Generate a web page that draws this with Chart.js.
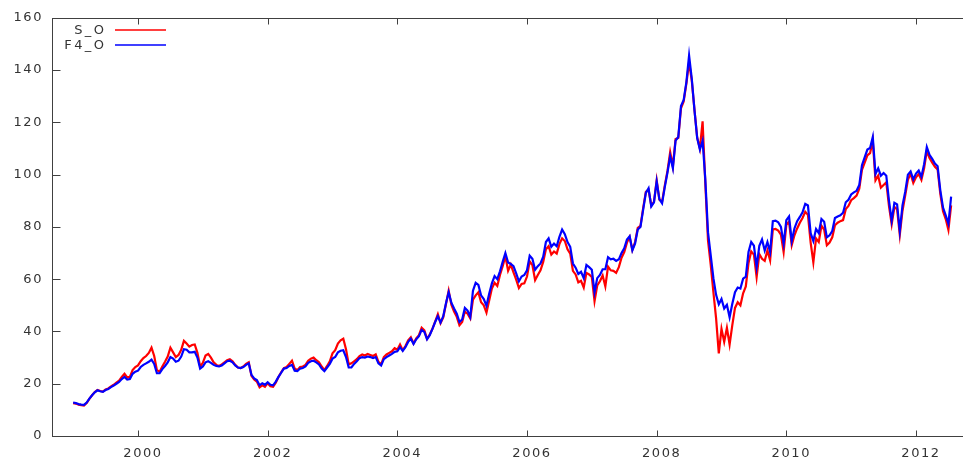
<!DOCTYPE html>
<html>
<head>
<meta charset="utf-8">
<script src="https://cdn.jsdelivr.net/npm/chart.js@4.4.1/dist/chart.umd.min.js"></script>
<style>
  html, body { margin: 0; padding: 0; background: #fff; overflow: hidden; }
  #wrap { width: 980px; height: 459px; }
</style>
</head>
<body>
<div id="wrap"><canvas id="chart" width="980" height="459"></canvas></div>
<script>
// samples are taken on the 1st and the 16th of every month
const firstYear = 1999;
const samplesPerYear = 24;

const seriesLabels = ['S_O', 'F4_O'];
const seriesColors = ['#ff0000', '#0000ff'];

const spotPrices = [
  // 1999
  12.6, 12.4, 12.0, 11.8, 11.6, 12.6, 14.2, 15.6, 16.8, 17.6, 17.2, 17.0, 17.8, 18.2, 19.0, 19.6, 20.4, 21.2, 22.6, 23.8, 22.4, 22.6, 25.2, 26.4,
  // 2000
  27.0, 28.6, 29.8, 30.6, 31.8, 33.8, 30.6, 25.2, 24.6, 26.6, 28.4, 30.4, 33.8, 32.0, 30.2, 31.0, 33.0, 36.4, 35.4, 34.2, 34.8, 35.0, 31.8, 26.6,
  // 2001
  28.0, 30.8, 31.4, 30.0, 28.2, 27.2, 26.8, 27.4, 28.2, 29.0, 29.4, 28.6, 27.2, 26.2, 26.0, 26.6, 27.6, 28.2, 23.0, 21.6, 20.8, 18.6, 19.4, 18.8,
  // 2002
  20.2, 19.0, 18.8, 20.4, 22.6, 24.4, 26.0, 26.4, 27.6, 28.8, 25.8, 25.2, 26.4, 26.6, 27.2, 28.8, 29.6, 30.0, 29.0, 28.2, 26.6, 25.2, 26.8, 28.6,
  // 2003
  31.6, 32.8, 35.4, 36.6, 37.2, 33.2, 27.4, 27.8, 28.6, 29.4, 30.6, 31.2, 30.8, 31.4, 31.0, 30.6, 31.2, 28.4, 27.4, 30.2, 31.2, 31.8, 32.4, 33.6,
  // 2004
  33.0, 35.0, 32.8, 34.4, 36.6, 37.8, 35.4, 37.4, 38.6, 41.4, 40.4, 37.2, 38.8, 41.0, 43.8, 46.6, 43.2, 45.4, 50.4, 55.6, 50.2, 47.6, 45.6, 42.4,
  // 2005
  43.6, 47.6, 46.8, 45.0, 52.2, 53.8, 55.0, 51.2, 50.0, 47.2, 51.8, 56.4, 58.6, 57.4, 61.6, 65.0, 68.8, 63.2, 65.6, 62.6, 59.8, 56.6, 58.2, 58.4,
  // 2006
  61.0, 66.8, 65.4, 59.6, 61.6, 63.4, 66.6, 71.4, 72.6, 69.4, 70.6, 69.8, 73.4, 75.6, 74.6, 71.4, 69.8, 63.2, 61.8, 58.8, 59.4, 56.8, 62.4, 61.8,
  // 2007
  60.8, 51.6, 57.6, 59.2, 61.4, 57.2, 64.8, 63.4, 63.2, 62.4, 64.6, 68.2, 70.4, 74.0, 76.2, 71.2, 74.2, 79.6, 80.4, 87.2, 93.4, 94.2, 88.2, 89.6,
  // 2008
  97.8, 90.4, 89.6, 95.8, 101.4, 108.6, 103.2, 113.6, 114.0, 125.4, 128.0, 134.8, 143.0, 136.0, 124.8, 114.2, 110.0, 120.4, 96.8, 74.8, 65.6, 55.0, 45.0, 31.6,
  // 2009
  41.0, 36.0, 41.4, 35.0, 42.4, 49.0, 51.2, 50.0, 54.6, 57.2, 66.2, 70.6, 69.4, 60.8, 69.6, 67.8, 67.0, 71.0, 67.2, 79.0, 79.2, 78.6, 77.0, 70.4,
  // 2010
  80.8, 82.0, 73.0, 76.8, 79.4, 81.6, 83.4, 85.8, 84.6, 74.0, 66.4, 75.6, 74.2, 80.4, 79.0, 73.0, 74.0, 76.0, 80.6, 81.6, 82.2, 82.6, 86.8, 88.0,
  // 2011
  90.2, 91.0, 92.0, 94.6, 101.8, 104.6, 107.4, 108.2, 113.0, 97.8, 99.6, 95.0, 96.0, 97.0, 88.0, 81.0, 87.6, 86.8, 77.0, 86.2, 92.0, 98.0, 100.4, 96.8,
  // 2012 (to mid July)
  99.0, 100.2, 98.0, 102.4, 109.0, 106.4, 104.6, 103.0, 102.0, 92.6, 86.0, 83.0, 78.8, 88.2
];

const futuresPrices = [
  // 1999
  12.8, 12.6, 12.2, 12.0, 11.9, 12.8, 14.3, 15.6, 16.7, 17.5, 17.1, 16.9, 17.6, 18.0, 18.7, 19.3, 20.0, 20.7, 21.8, 22.6, 21.6, 21.8, 23.8, 24.6,
  // 2000
  25.0, 26.4, 27.2, 27.8, 28.4, 29.2, 27.6, 24.0, 24.0, 25.6, 26.8, 28.2, 30.2, 29.6, 28.4, 28.8, 30.4, 33.2, 33.0, 32.0, 32.0, 32.2, 30.0, 25.8,
  // 2001
  26.6, 28.2, 28.6, 28.0, 27.2, 26.8, 26.6, 27.0, 27.8, 28.6, 28.8, 28.2, 27.0, 26.2, 26.0, 26.4, 27.2, 27.8, 23.4, 22.0, 21.4, 19.4, 20.2, 19.6,
  // 2002
  20.6, 19.6, 19.4, 20.8, 22.6, 24.2, 25.8, 26.0, 26.8, 27.2, 25.0, 24.8, 25.8, 26.0, 26.6, 28.0, 28.6, 28.8, 28.2, 27.4, 25.8, 24.8, 26.2, 27.6,
  // 2003
  29.6, 30.2, 32.0, 32.6, 32.8, 30.2, 26.2, 26.2, 27.6, 28.6, 29.8, 30.2, 30.0, 30.4, 30.2, 29.8, 30.2, 27.8, 27.0, 29.4, 30.2, 30.8, 31.4, 32.2,
  // 2004
  32.4, 34.0, 32.6, 34.0, 36.0, 37.2, 35.2, 37.0, 38.2, 40.6, 39.8, 37.0, 38.6, 41.0, 43.6, 45.8, 43.4, 45.8, 50.8, 55.0, 51.0, 48.8, 46.8, 43.6,
  // 2005
  44.6, 49.0, 48.0, 45.6, 55.6, 58.6, 57.8, 53.8, 52.4, 49.8, 54.4, 58.4, 61.2, 60.0, 63.0, 66.6, 70.0, 66.4, 65.8, 65.0, 62.2, 59.2, 61.0, 61.6,
  // 2006
  63.4, 69.0, 67.8, 63.6, 65.0, 66.0, 68.6, 74.2, 75.6, 72.4, 73.6, 72.6, 76.2, 79.0, 77.2, 74.2, 72.4, 66.0, 64.4, 62.0, 62.8, 60.4, 65.4, 64.6,
  // 2007
  63.6, 55.0, 60.4, 61.6, 63.8, 63.8, 68.4, 67.6, 67.8, 67.0, 67.6, 70.0, 71.8, 75.2, 76.4, 71.0, 73.6, 79.0, 80.0, 86.6, 93.0, 94.8, 87.8, 89.4,
  // 2008
  97.4, 90.6, 89.0, 95.2, 100.8, 107.0, 102.4, 113.0, 114.4, 126.2, 128.6, 135.4, 145.6, 136.6, 124.6, 114.0, 109.6, 113.0, 98.4, 78.0, 69.2, 60.4, 54.0, 50.4,
  // 2009
  52.4, 48.8, 50.2, 45.4, 50.6, 55.0, 56.8, 56.4, 60.2, 61.0, 70.4, 74.2, 72.8, 64.6, 72.8, 75.2, 71.0, 74.2, 70.4, 82.2, 82.4, 81.8, 80.0, 73.6,
  // 2010
  82.6, 84.0, 74.6, 79.4, 82.2, 83.8, 85.6, 88.8, 88.2, 77.6, 74.6, 79.2, 77.6, 83.0, 82.0, 76.0, 76.8, 78.4, 83.4, 84.0, 84.4, 85.4, 89.4, 90.4,
  // 2011
  92.4, 93.2, 93.8, 96.0, 103.6, 106.6, 109.6, 110.2, 114.4, 100.2, 102.4, 99.6, 100.6, 99.6, 90.0, 82.4, 89.2, 88.6, 78.4, 88.2, 93.4, 100.0, 101.2, 98.2,
  // 2012 (to mid July)
  100.4, 101.6, 99.2, 104.0, 110.6, 107.6, 106.0, 104.2, 103.2, 94.0, 87.4, 84.4, 81.2, 91.6
];

const yearTicks = [2000, 2002, 2004, 2006, 2008, 2010, 2012];
const valueTicks = [0, 20, 40, 60, 80, 100, 120, 140, 160];

const sampleYears = spotPrices.map((_, i) => firstYear + i / samplesPerYear);
const toPoints = values => values.map((v, i) => ({ x: sampleYears[i], y: v }));

const FONT = 'DejaVu Sans';
const TEXT_COLOR = '#333';
const FRAME_COLOR = '#404040';
const SPACING = 1.6;
const LEGEND_SPACING = 2.4;

// gnuplot style: full frame, inward ticks, legend text left of its line sample
const gnuplotFrame = {
  id: 'gnuplotFrame',
  beforeDraw(chart) {
    chart.ctx.letterSpacing = SPACING + 'px';
  },
  afterDraw(chart) {
    const { ctx, chartArea: a, scales } = chart;
    const left = Math.round(a.left) - 0.5;
    const right = Math.round(a.right) - 0.5;
    const top = Math.round(a.top) + 0.5;
    const bottom = Math.round(a.bottom) + 0.5;
    ctx.save();
    ctx.strokeStyle = FRAME_COLOR;
    ctx.lineWidth = 1;
    ctx.strokeRect(left, top, right - left, bottom - top);
    ctx.beginPath();
    scales.x.ticks.forEach(t => {
      const px = Math.round(scales.x.getPixelForValue(t.value)) + 0.5;
      ctx.moveTo(px, bottom); ctx.lineTo(px, bottom - 6);
      ctx.moveTo(px, top); ctx.lineTo(px, top + 6);
    });
    scales.y.ticks.forEach(t => {
      const py = Math.round(scales.y.getPixelForValue(t.value)) + 0.5;
      ctx.moveTo(left, py); ctx.lineTo(left + 8, py);
      ctx.moveTo(right, py); ctx.lineTo(right - 8, py);
    });
    ctx.stroke();

    // legend
    ctx.font = '13px "' + FONT + '"';
    ctx.letterSpacing = LEGEND_SPACING + 'px';
    ctx.fillStyle = TEXT_COLOR;
    ctx.textAlign = 'right';
    ctx.textBaseline = 'middle';
    chart.data.datasets.forEach((ds, i) => {
      const y = 30 + i * 15;
      ctx.fillText(ds.label, 104 + LEGEND_SPACING, y + 0.5);
      ctx.strokeStyle = ds.borderColor;
      ctx.lineWidth = 1.5;
      ctx.beginPath();
      ctx.moveTo(115, y);
      ctx.lineTo(166, y);
      ctx.stroke();
    });
    ctx.restore();
  }
};

new Chart(document.getElementById('chart'), {
  type: 'line',
  data: {
    datasets: [
      {
        label: seriesLabels[0],
        data: toPoints(spotPrices),
        borderColor: seriesColors[0],
        borderWidth: 2.2,
        pointRadius: 0,
        tension: 0,
        order: 2
      },
      {
        label: seriesLabels[1],
        data: toPoints(futuresPrices),
        borderColor: seriesColors[1],
        borderWidth: 2.2,
        pointRadius: 0,
        tension: 0,
        order: 1
      }
    ]
  },
  options: {
    responsive: false,
    animation: false,
    layout: { padding: { top: 15, right: 5, left: 0, bottom: 0 } },
    plugins: {
      legend: { display: false },
      tooltip: { enabled: false }
    },
    scales: {
      x: {
        type: 'linear',
        min: 1998.689,
        max: 2012.91,
        grid: { display: false, drawTicks: false },
        border: { display: false },
        afterBuildTicks: scale => { scale.ticks = yearTicks.map(v => ({ value: v })); },
        afterFit: scale => { scale.height = 23; },
        ticks: {
          autoSkip: false,
          maxRotation: 0,
          padding: 10,
          labelOffset: 5,
          color: TEXT_COLOR,
          font: { family: FONT, size: 13 },
          callback: v => String(v)
        }
      },
      y: {
        min: 0,
        max: 160,
        grid: { display: false, drawTicks: false },
        border: { display: false },
        afterBuildTicks: scale => { scale.ticks = valueTicks.map(v => ({ value: v })); },
        afterFit: scale => { scale.width = 53; },
        ticks: {
          padding: 10,
          color: TEXT_COLOR,
          font: { family: FONT, size: 13 },
          callback: v => String(v)
        }
      }
    }
  },
  plugins: [gnuplotFrame]
});
</script>
</body>
</html>
